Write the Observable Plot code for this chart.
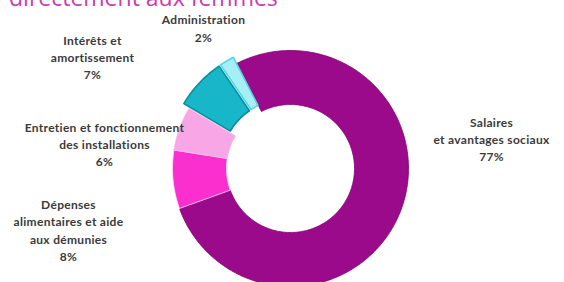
<!DOCTYPE html>
<html>
<head>
<meta charset="utf-8">
<script src="https://cdn.jsdelivr.net/npm/d3@7"></script>
<script src="https://cdn.jsdelivr.net/npm/@observablehq/plot@0.6"></script>
<style>
  html, body { margin: 0; padding: 0; background: #fff; }
  #wrap { position: relative; width: 564px; height: 282px; overflow: hidden; }
  #title { position: absolute; left: 9px; top: -18px; font-family: "Open Sans", sans-serif; font-size: 23px; line-height: 30px; color: #c93bb3; white-space: nowrap; }
  #chart svg text { letter-spacing: 0.3px; }
</style>
</head>
<body>
<div id="wrap">
  <div id="title">directement aux femmes</div>
  <div id="chart"></div>
</div>
<script>
// ---- data ----
const categories = ["Salaires\net avantages sociaux", "Dépenses\nalimentaires et aide\naux démunies", "Entretien et fonctionnement\ndes installations", "Intérêts et\namortissement", "Administration"];
const values = [77, 8, 6, 7, 2];

// ---- style / layout ----
const fills = ["#9c0a8c", "#fb2fce", "#f8a6e6", "#17b6c9", "#a6eff5"];
const strokes = ["#7e0070", "#ffe0f6", "#f6b5ea", "#0b8c9c", "#53d6e4"];
const exploded = [0, 0, 0, 1, 1];
const W = 564, H = 282, CX = 290, CY = 168, RPX = 118;
const innerRatio = 64 / 118;
const startDeg = -27;
const explodePx = 7;
// label block centres in pixels
const labelCx = [491, 68, 104, 92, 203];
const labelCy = [138, 229, 143, 56, 27];

const total = d3.sum(values);
const polys = [];
let acc = 0;
values.forEach((v, i) => {
  const a0 = (startDeg + acc / total * 360) * Math.PI / 180;
  acc += v;
  const a1 = (startDeg + acc / total * 360) * Math.PI / 180;
  const am = (a0 + a1) / 2;
  const off = exploded[i] ? explodePx / RPX : 0;
  const ox = off * Math.sin(am), oy = off * Math.cos(am);
  const n = Math.max(4, Math.ceil((a1 - a0) / 0.02));
  const pts = [];
  for (let k = 0; k <= n; k++) { const a = a0 + (a1 - a0) * k / n; pts.push([ox + Math.sin(a), oy + Math.cos(a)]); }
  for (let k = n; k >= 0; k--) { const a = a0 + (a1 - a0) * k / n; pts.push([ox + innerRatio * Math.sin(a), oy + innerRatio * Math.cos(a)]); }
  pts.push(pts[0]);
  pts.forEach(p => polys.push({i, x: p[0], y: p[1]}));
});

const labels = categories.map((c, i) => ({
  text: c + "\n" + values[i] + "%",
  x: (labelCx[i] - CX) / RPX,
  y: (CY - labelCy[i]) / RPX
}));

const chart = Plot.plot({
  width: W, height: H,
  margin: 0,
  x: {domain: [-CX / RPX, (W - CX) / RPX], axis: null},
  y: {domain: [-(H - CY) / RPX, CY / RPX], axis: null},
  style: {background: "transparent"},
  marks: [
    Plot.line(polys, {x: "x", y: "y", z: "i", fill: d => fills[d.i], stroke: d => strokes[d.i], strokeWidth: d => exploded[d.i] ? 1.6 : 0.8, curve: "linear"}),
    Plot.text(labels, {x: "x", y: "y", text: "text", fill: "#3a3a3a", fontSize: 12, fontWeight: 700, fontFamily: "Lato, 'Open Sans', sans-serif", lineHeight: 1.45, textAnchor: "middle", lineAnchor: "middle"})
  ]
});
document.getElementById("chart").appendChild(chart);
</script>
</body>
</html>
